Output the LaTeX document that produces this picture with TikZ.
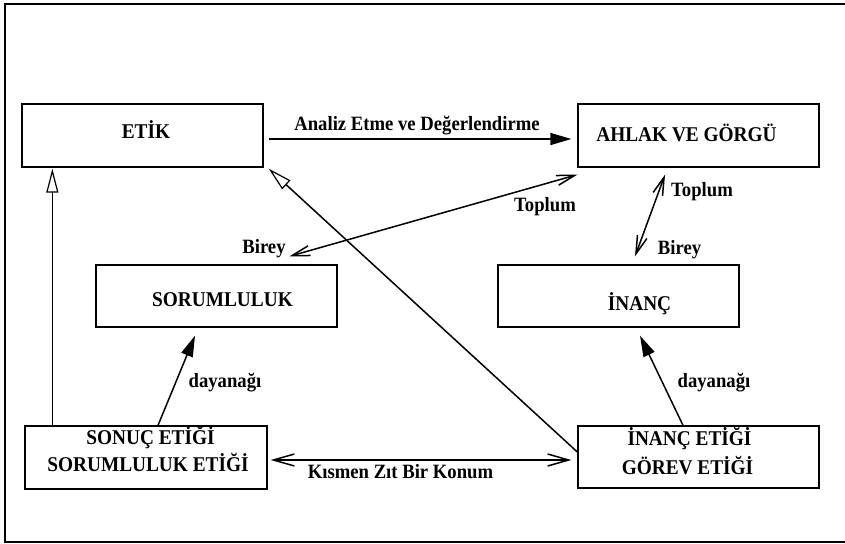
\documentclass[tikz,border=0pt]{standalone}
\usepackage{fontspec}
\newfontfamily\tnr{Liberation Serif}[FakeStretch=0.92]
\usetikzlibrary{arrows.meta}
\begin{document}
\begin{tikzpicture}[x=1pt,y=-1pt,
  box/.style={draw=black,line width=1.3pt,rectangle,minimum width=241pt,minimum height=62pt,inner sep=0pt},
  boxtext/.style={anchor=base,inner sep=0pt,font=\tnr\bfseries\fontsize{21}{25}\selectfont},
  lbl/.style={anchor=base,inner sep=0pt,font=\tnr\bfseries\fontsize{20.3}{24}\selectfont},
  conn/.style={line width=1.5pt,draw=black},
  thin/.style={line width=0.9pt,draw=black},
  filled/.style={-{Triangle[length=21pt,width=12pt]}},
  opentri/.style={-{Triangle[open,length=24pt,width=12pt,line width=1.2pt]}},
  barbs/.style={{Straight Barb[length=18pt,width=10pt]}-{Straight Barb[length=18pt,width=10pt]}},
  barbsw/.style={{Straight Barb[length=21pt,width=12pt]}-{Straight Barb[length=21pt,width=12pt]}}
]
\useasboundingbox (0,0) rectangle (845,543);
% outer frame (open on the right)
\draw[line width=2pt] (850,4) -- (5,4) -- (5,542) -- (850,542);

% boxes
\node[box,minimum height=63pt] (etik) at (142.5,135.5) {};
\node[box,minimum height=63pt] (ahlak) at (698.5,135.5) {};
\node[box] (sorum) at (216.5,296) {};
\node[box] (inanc) at (618.5,296) {};
\node[box,minimum height=63pt,minimum width=242pt] (sonuc) at (146,457.5) {};
\node[box] (inancetik) at (698.5,457) {};

% box texts
\node[boxtext] (t-etik) at (146,138) {ETİK};
\node[boxtext] (t-ahlak) at (686.5,141.5) {AHLAK VE GÖRGÜ};
\node[boxtext] (t-sorum) at (222.5,306) {SORUMLULUK};
\node[boxtext] (t-inanc) at (639.5,310) {İNANÇ};
\node[boxtext] (t-sonuc1) at (150.5,444) {SONUÇ ETİĞİ};
\node[boxtext] (t-sonuc2) at (148,471) {SORUMLULUK ETİĞİ};
\node[boxtext] (t-ie1) at (689.5,445) {İNANÇ ETİĞİ};
\node[boxtext] (t-ie2) at (687.5,474) {GÖREV ETİĞİ};

% connectors
\draw[conn,filled] ([shift={(5,3.5)}]etik.east) -- ([shift={(-6,3.5)}]ahlak.west);
\draw[thin,opentri] ([shift={(28,0)}]sonuc.north west) -- ([shift={(31,1)}]etik.south west);
\draw[conn,opentri] ([shift={(0,-5)}]inancetik.west) -- ([shift={(5,1)}]etik.south east);
\draw[conn,barbs] ([shift={(194,-8)}]sorum.north west) -- ([shift={(0,7)}]ahlak.south west);
\draw[conn,barbs] ([shift={(-33.5,7)}]ahlak.south) -- ([shift={(16.5,-8)}]inanc.north);
\draw[conn,filled] ([shift={(12,0)}]sonuc.north) -- ([shift={(-21.5,8)}]sorum.south);
\draw[conn,filled] ([shift={(-15.5,0)}]inancetik.north) -- ([shift={(21.5,8)}]inanc.south);
\draw[conn,barbsw] ([shift={(3,2.5)}]sonuc.east) -- ([shift={(-6,3)}]inancetik.west);

% labels
\node[lbl] (l-analiz) at (417,130) {Analiz Etme ve Değerlendirme};
\node[lbl] (l-birey1) at (264,253) {Birey};
\node[lbl] (l-toplum1) at (545,211) {Toplum};
\node[lbl] (l-toplum2) at (702,196.5) {Toplum};
\node[lbl] (l-birey2) at (679.5,254) {Birey};
\node[lbl] (l-day1) at (225,387) {dayanağı};
\node[lbl] (l-day2) at (714,387) {dayanağı};
\node[lbl] (l-kismen) at (400.5,478) {Kısmen Zıt Bir Konum};
\end{tikzpicture}
\end{document}
